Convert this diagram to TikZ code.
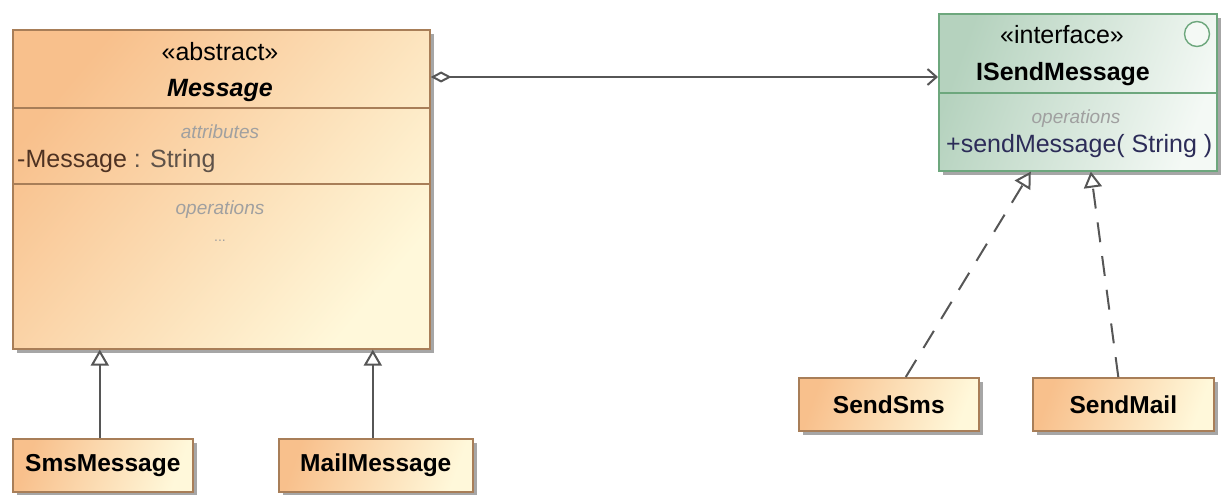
\documentclass[tikz,border=0pt]{standalone}
\usepackage{fontspec}
\setmainfont{Liberation Sans}
\usetikzlibrary{arrows.meta,shadows}
\definecolor{orgA}{HTML}{F8C08C}
\definecolor{orgB}{HTML}{FFF8DA}
\definecolor{msgborder}{HTML}{A87E58}
\definecolor{grnA}{HTML}{B5D2BE}
\definecolor{grnB}{HTML}{F4F9F5}
\definecolor{grnborder}{HTML}{6DA77D}
\definecolor{linecol}{HTML}{565656}
\definecolor{labgray}{HTML}{A0A0A0}
\definecolor{attrcol}{HTML}{4E3222}
\definecolor{typecol}{HTML}{5E5249}
\definecolor{opcol}{HTML}{2C2C58}
\tikzset{
  shadowed/.style={drop shadow={shadow xshift=4pt, shadow yshift=-4pt, fill=black, opacity=0.35}},
  msgbox/.style={draw=msgborder, line width=1.6pt, left color=orgA, right color=orgB, shading angle=50, shadowed, inner sep=0pt},
  smallbox/.style={draw=msgborder, line width=1.6pt, left color=orgA, right color=orgB, shading angle=70, shadowed, inner sep=0pt, minimum height=53pt, font=\fontsize{24.5}{28}\selectfont\bfseries},
  ifbox/.style={draw=grnborder, line width=1.6pt, left color=grnA, right color=grnB, shading angle=70, shadowed, inner sep=0pt},
  msgsep/.style={draw=msgborder, line width=1.4pt},
  ifsep/.style={draw=grnborder, line width=1.4pt},
  big/.style={font=\fontsize{25}{30}\selectfont, inner sep=0pt},
  lab/.style={font=\fontsize{19}{22}\selectfont\itshape, text=labgray, inner sep=0pt},
  conn/.style={draw=linecol, line width=2pt},
  gen/.style={conn, -{Triangle[open, length=16pt, width=18pt, fill=white]}},
  real/.style={conn, dash pattern=on 20pt off 14pt, -{Triangle[open, length=16pt, width=18pt, fill=white]}},
  agg/.style={conn, {Diamond[open, length=21pt, width=11pt, fill=white]}-{Straight Barb[length=9pt, width=16pt]}},
}
\begin{document}
\begin{tikzpicture}[x=1pt, y=-1pt]
\useasboundingbox (0,0) rectangle (1224,495);

% Message class
\node[msgbox, minimum width=417pt, minimum height=319pt, anchor=north west] (msg) at (12,29) {};
\draw[msgsep] (msg.west |- 0,108) -- (msg.east |- 0,108);
\draw[msgsep] (msg.west |- 0,184) -- (msg.east |- 0,184);
\node[big, anchor=base] (msgster) at (220,61) {«abstract»};
\node[big, anchor=base, font=\fontsize{25}{30}\selectfont\bfseries\itshape] (msgname) at (220,96) {Message};
\node[lab, anchor=base] (msgattr) at (220,138) {attributes};
\node[big, anchor=base west] (msgatt1) at (17,167) {\textcolor{attrcol}{-Message} \textcolor{typecol}{: String}};
\node[lab, anchor=base] (msgops) at (220,214) {operations};
\node[lab, anchor=base, font=\fontsize{14}{16}\selectfont] (msgdots) at (220,241) {...};

% Interface
\node[ifbox, minimum width=278pt, minimum height=157pt, anchor=north west] (iface) at (938,13) {};
\draw[ifsep] (iface.west |- 0,93) -- (iface.east |- 0,93);
\node[circle, draw=grnborder, line width=1.4pt, fill=grnB, minimum size=25pt, inner sep=0pt] (icon) at (1197,34) {};
\node[big, anchor=base] (ifster) at (1062,44) {«interface»};
\node[big, anchor=base, font=\fontsize{25}{30}\selectfont\bfseries] (ifname) at (1063,81) {ISendMessage};
\node[lab, anchor=base] (ifops) at (1076,123) {operations};
\node[big, anchor=base west, text=opcol] (ifop1) at (946,152) {+sendMessage( String )};

% Subclasses
\node[smallbox, minimum width=180pt, anchor=north west] (sms) at (12,438) {SmsMessage};
\node[smallbox, minimum width=194pt, anchor=north west] (mail) at (278,438) {MailMessage};
\node[smallbox, minimum width=180pt, anchor=north west] (ssms) at (798,377) {SendSms};
\node[smallbox, minimum width=181pt, anchor=north west] (smail) at (1032,377) {SendMail};

% Connectors
\coordinate (aggstart) at ([yshift=-48pt]msg.north east);
\draw[agg] (aggstart) -- (aggstart -| iface.west);
\draw[gen] ([xshift=-3pt]sms.north) -- ([xshift=-3pt]sms.north |- msg.south);
\draw[gen] ([xshift=-3pt]mail.north) -- ([xshift=-3pt]mail.north |- msg.south);
\draw[real] ([xshift=17pt]ssms.north) -- ([xshift=-47pt]iface.south);
\draw[real] ([xshift=-5pt]smail.north) -- ([xshift=13pt]iface.south);
\end{tikzpicture}
\end{document}
